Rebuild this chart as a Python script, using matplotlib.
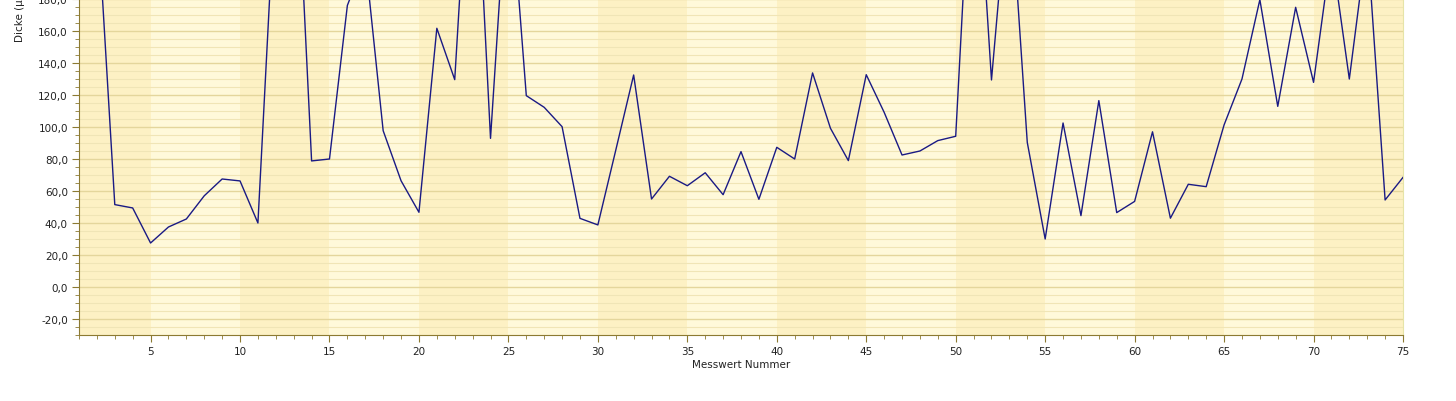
import numpy as np
import matplotlib
matplotlib.use('Agg')
import matplotlib.pyplot as plt
from matplotlib.ticker import MultipleLocator, FuncFormatter

# Messwerte (values above 180 run off the top of the chart)
messwert_nr = list(range(1, 76))
dicke = [
    230, 239, 51.5, 49.4, 27.5, 37.5, 42.5, 57.0, 67.5, 66.3,
    40.0, 255, 310, 78.8, 80.0, 176, 205, 97.7, 66.4, 46.7,
    161.7, 129.6, 315, 92.9, 265, 119.6, 112.3, 100.2, 42.9, 38.8,
    85.5, 132.5, 55.0, 69.2, 63.3, 71.4, 57.7, 84.6, 54.8, 87.3,
    80.0, 133.8, 99.2, 79.0, 132.7, 109.2, 82.5, 85.0, 91.5, 94.2,
    305, 129.4, 257, 90.4, 30.0, 102.5, 44.6, 116.5, 46.5, 53.5,
    97.0, 43.0, 64.2, 62.7, 101.3, 130.0, 179.6, 112.9, 174.8, 127.9,
    210, 130.0, 217, 54.4, 68.5,
]
x_ticks = list(range(5, 76, 5))

W, H = 1456, 402
fig = plt.figure(figsize=(W / 100, H / 100), dpi=100)
ax = fig.add_axes([79 / W, (H - 336) / H, (1403 - 79) / W, 336 / H])

ax.set_xlim(1, 75)
ax.set_ylim(-30, 180)

# alternating background bands, 5 units wide
dark = '#fdf1c4'
light = '#fff9da'
ax.axvspan(1, 5, color=dark, zorder=0, lw=0)
for i, start in enumerate(range(5, 75, 5)):
    ax.axvspan(start, start + 5, color=light if i % 2 == 0 else dark, zorder=0, lw=0)

# grid lines
for v in np.arange(-30, 181, 5):
    if v % 20 == 0:
        ax.axhline(v, color='#e4d69c', lw=1.0, zorder=1)
    else:
        ax.axhline(v, color='#f0e5b6', lw=0.8, zorder=1)

ax.plot(messwert_nr, dicke, color='#1a1a84', lw=1.0, zorder=3)

ax.set_xticks(x_ticks)
ax.xaxis.set_minor_locator(MultipleLocator(1))
ax.yaxis.set_major_locator(MultipleLocator(20))
ax.yaxis.set_minor_locator(MultipleLocator(5))
ax.yaxis.set_major_formatter(FuncFormatter(lambda v, p: f'{v:.1f}'.replace('.', ',')))

spine_col = '#8c7a32'
ax.spines['top'].set_visible(False)
ax.spines['right'].set_color('#e6e4a8')
ax.spines['left'].set_color(spine_col)
ax.spines['bottom'].set_color(spine_col)
ax.tick_params(axis='both', which='major', length=5, color=spine_col, labelsize=7.5,
               labelcolor='#222222')
ax.tick_params(axis='both', which='minor', length=3, color=spine_col)
ax.tick_params(axis='x', pad=3)
ax.tick_params(axis='y', pad=3)

ax.set_xlabel('Messwert Nummer', fontsize=7.5, color='#222222', labelpad=2)
fig.text(20 / W, 1 - 42 / H, 'Dicke (µm)', rotation=90, ha='center', va='bottom',
         fontsize=7.5, color='#222222')

fig.savefig('out.png', dpi=100)
